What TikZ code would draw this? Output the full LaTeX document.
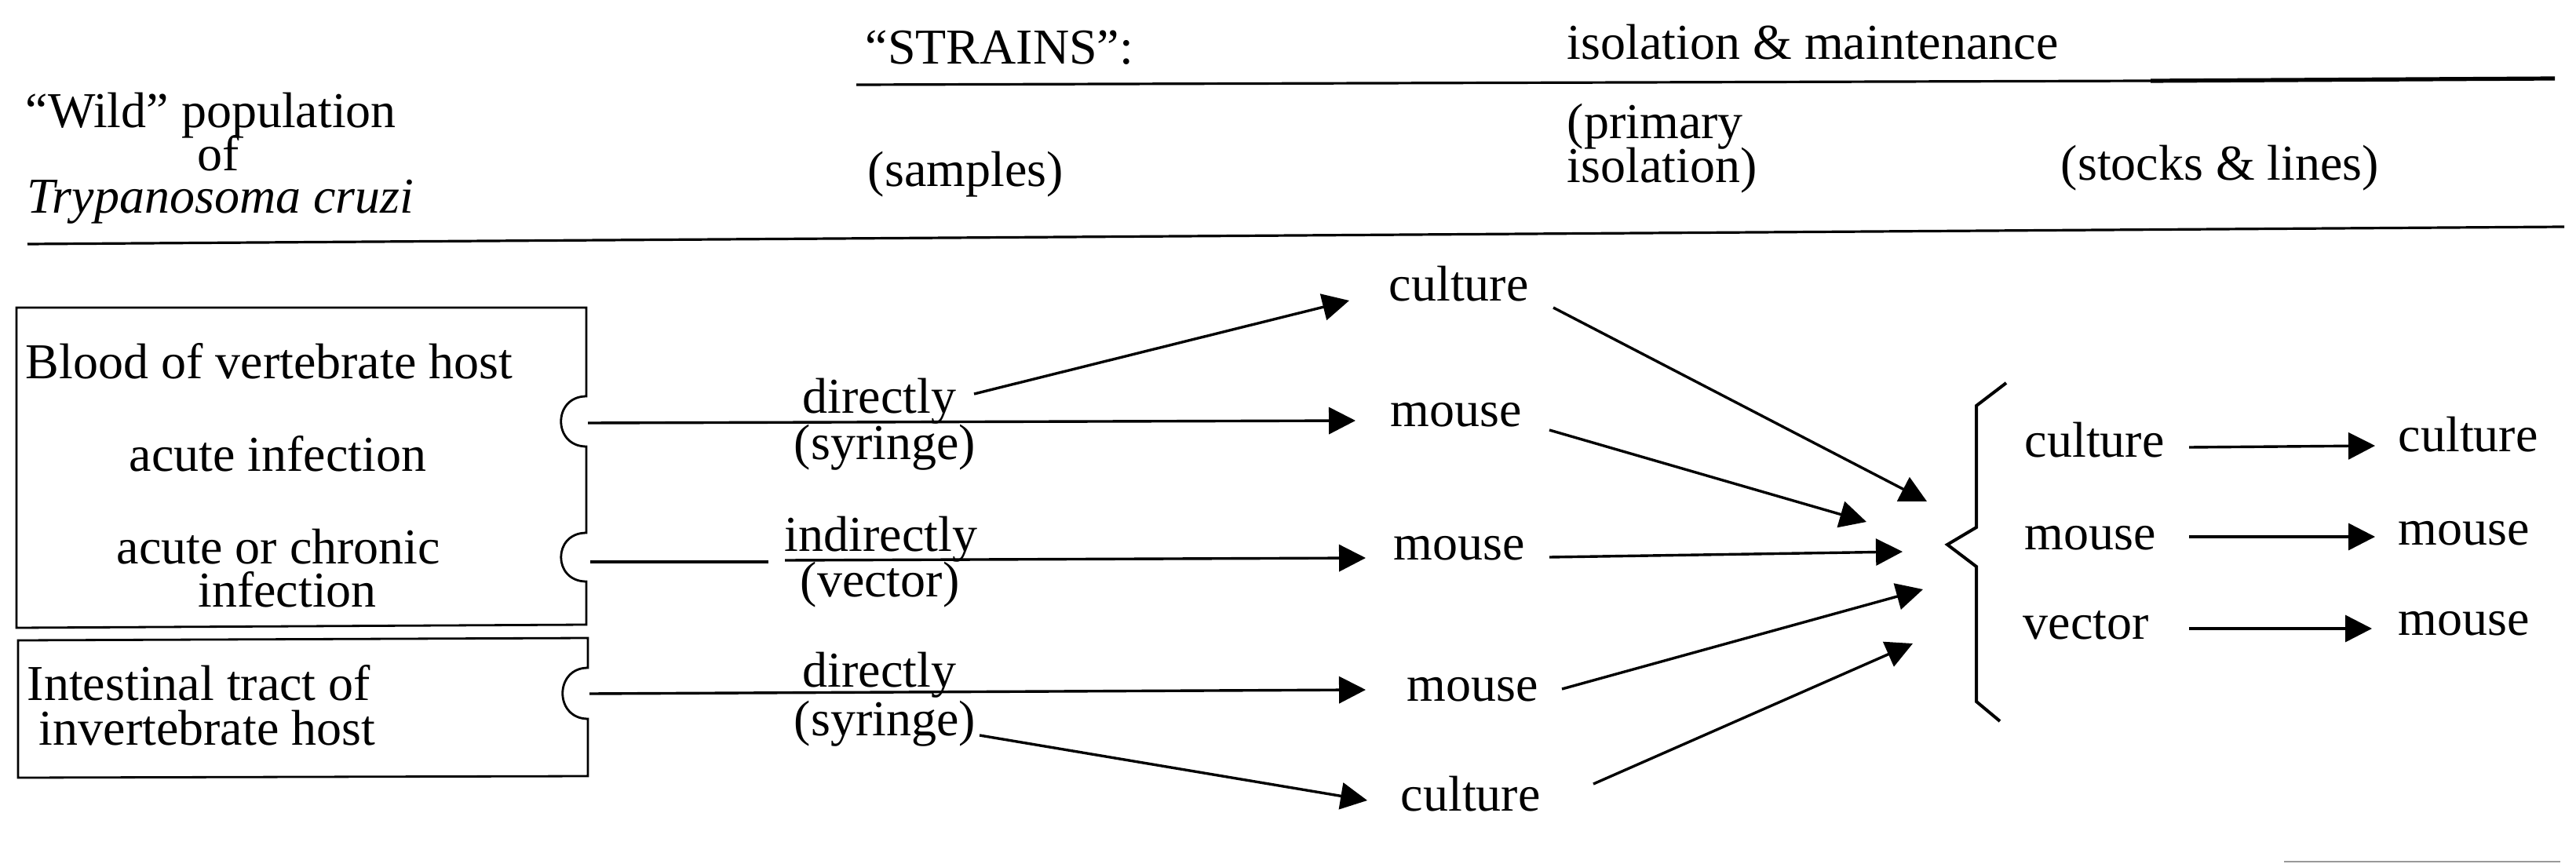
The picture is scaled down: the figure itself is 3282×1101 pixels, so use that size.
\documentclass[tikz,border=0pt]{standalone}
\usepackage{fontspec}
\setmainfont{Liberation Serif}
\usetikzlibrary{arrows.meta}
\begin{document}
\begin{tikzpicture}[x=0.25pt,y=-0.25pt,
  txt/.style={anchor=base west,inner sep=0pt,font=\fontsize{16}{19}\selectfont},
  ctxt/.style={anchor=base,inner sep=0pt,font=\fontsize{16}{19}\selectfont},
  rule/.style={line width=0.8pt},
  boxline/.style={line width=0.7pt},
  arr/.style={line width=0.85pt,-{Triangle[length=8.5pt,width=8.5pt]}},
  plain/.style={line width=0.85pt},
  bracestyle/.style={line width=1pt,line join=miter}]
\useasboundingbox (0,0) rectangle (3282,1101);

% ---- header texts ----
\node[txt] (wild) at (32,163) {“Wild” population};
\node[txt] (of) at (251,218) {of};
\node[txt] (tc) at (34,272) {\itshape Trypanosoma cruzi};
\node[txt] (strains) at (1102,82) {“STRAINS”:};
\node[txt] (isomain) at (1996,76) {isolation \& maintenance};
\node[txt] (samples) at (1105,238) {(samples)};
\node[txt] (primary) at (1996,177) {(primary};
\node[txt] (primiso) at (1996,233) {isolation)};
\node[txt] (stocks) at (2625,230) {(stocks \& lines)};

% ---- header rules ----
\coordinate (r1a) at (1091,108);
\coordinate (r1b) at (2740,103);
\coordinate (r1c) at (3255,100);
\draw[rule] (r1a) -- (r1b);
\draw[line width=1.3pt] (r1b) -- (r1c);
\coordinate (r2a) at (35,311);
\coordinate (r2b) at (3267,289);
\draw[rule] (r2a) -- (r2b);

% ---- source boxes ----
\draw[boxline] (21,392) -- (747,392) -- (747,505)
  .. controls (704,505) and (704,569) .. (747,569) -- (747,679)
  .. controls (704,679) and (704,741) .. (747,741) -- (747,796)
  -- (21,800) -- cycle;
\draw[boxline] (23,816) -- (749,813) -- (749,851)
  .. controls (706,851) and (706,916) .. (749,916) -- (749,989)
  -- (23,991) -- cycle;

\node[txt] (blood) at (32,483) {Blood of vertebrate host};
\node[ctxt] (acute) at (354,600) {acute infection};
\node[ctxt] (acchr) at (355,718) {acute or chronic};
\node[ctxt] (infec) at (366,773) {infection};
\node[txt] (intest) at (34,892) {Intestinal tract of};
\node[txt] (invert) at (49,949) {invertebrate host};

% ---- sample labels ----
\node[txt] (dir1) at (1022,527) {directly};
\node[txt] (syr1) at (1011,585) {(syringe)};
\node[txt] (indir) at (999,702) {indirectly};
\node[txt] (vect) at (1019,760) {(vector)};
\node[txt] (dir3) at (1022,875) {directly};
\node[txt] (syr3) at (1011,937) {(syringe)};

% ---- primary isolation ----
\node[txt] (cul1) at (1769,383) {culture};
\node[txt] (mou1) at (1771,543) {mouse};
\node[txt] (mou2) at (1775,713) {mouse};
\node[txt] (mou3) at (1792,893) {mouse};
\node[txt] (cul2) at (1784,1033) {culture};

% ---- stocks & lines ----
\node[txt] (scul) at (2579,582) {culture};
\node[txt] (smou) at (2579,700) {mouse};
\node[txt] (svec) at (2577,814) {vector};
\node[txt] (tcul) at (3055,575) {culture};
\node[txt] (tmou1) at (3055,694) {mouse};
\node[txt] (tmou2) at (3055,809) {mouse};

% ---- connector end points ----
\coordinate (n1) at (749,539);
\coordinate (n2) at (752,716);
\coordinate (g2a) at (979,716);
\coordinate (g2b) at (1000,714);
\coordinate (n3) at (751,884);
\coordinate (tm1) at (1727,536);
\coordinate (tm2) at (1740,711);
\coordinate (tm3) at (1740,879);
\coordinate (d1) at (1241,502);
\coordinate (tc1) at (1719,383);
\coordinate (s3) at (1248,937);
\coordinate (tc2) at (1742,1020);
\coordinate (o1) at (1979,392);
\coordinate (o2) at (1974,548);
\coordinate (o3) at (1974,710);
\coordinate (o4) at (1990,878);
\coordinate (o5) at (2030,999);
\coordinate (b1) at (2455,639);
\coordinate (b2) at (2378,665);
\coordinate (b3) at (2424,703);
\coordinate (b4) at (2450,751);
\coordinate (b5) at (2437,820);
\coordinate (ra) at (2789,570);
\coordinate (rb) at (2789,684);
\coordinate (rc) at (2789,801);
\coordinate (ta) at (3026,568);
\coordinate (tb) at (3026,684);
\coordinate (tcc) at (3022,801);

% ---- connectors ----
\draw[arr] (n1) -- (tm1);
\draw[arr] (d1) -- (tc1);
\draw[plain] (n2) -- (g2a);
\draw[arr] (g2b) -- (tm2);
\draw[arr] (n3) -- (tm3);
\draw[arr] (s3) -- (tc2);
\draw[arr] (o1) -- (b1);
\draw[arr] (o2) -- (b2);
\draw[arr] (o3) -- (b3);
\draw[arr] (o4) -- (b4);
\draw[arr] (o5) -- (b5);
\draw[arr] (ra) -- (ta);
\draw[arr] (rb) -- (tb);
\draw[arr] (rc) -- (tcc);

% ---- brace ----
\draw[bracestyle] (2556,488) -- (2518,517) -- (2518,672) -- (2481,694)
  -- (2518,722) -- (2518,894) -- (2548,919);

% ---- stray rule at the bottom right ----
\coordinate (sa) at (2910,1098);
\coordinate (sb) at (3262,1098);
\draw[gray!80,line width=0.6pt] (sa) -- (sb);
\end{tikzpicture}
\end{document}
